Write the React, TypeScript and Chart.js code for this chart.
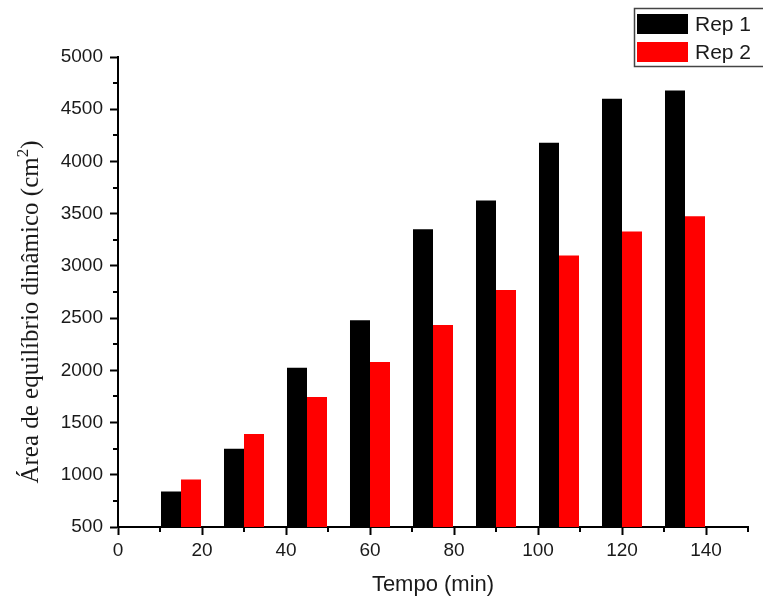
import React, { useEffect, useRef } from 'react';
import { Chart, registerables } from 'chart.js';

Chart.register(...registerables);

// ---- data ----
const tempos = [15, 30, 45, 60, 75, 90, 105, 120, 135];
const rep1 = [840, 1250, 2025, 2480, 3350, 3625, 4180, 4600, 4680];
const rep2 = [955, 1390, 1745, 2080, 2435, 2770, 3100, 3330, 3475];
const seriesLabels = ['Rep 1', 'Rep 2'];
const seriesColors = ['#000000', '#ff0000'];
const xMinorTicks = [10, 30, 50, 70, 90, 110, 130, 150];
const yMinorTicks = [750, 1250, 1750, 2250, 2750, 3250, 3750, 4250, 4750];
const xTitle = 'Tempo (min)';
const yTitleParts = ['Área de equilíbrio dinâmico (cm', '2', ')'];

const SANS = '"Liberation Sans", Arial, sans-serif';
const SERIF = '"Liberation Serif", "Times New Roman", serif';
const TEXT = '#1a1a1a';

const overlayPlugin = {
  id: 'overlay',
  afterDraw(chart: any) {
    const { ctx, scales } = chart;
    const x = scales.x;
    const y = scales.y;
    ctx.save();
    // minor ticks
    ctx.strokeStyle = '#000';
    ctx.lineWidth = 2;
    ctx.beginPath();
    xMinorTicks.forEach((v) => {
      const px = Math.round(x.getPixelForValue(v));
      ctx.moveTo(px, x.top);
      ctx.lineTo(px, x.top + 5);
    });
    yMinorTicks.forEach((v) => {
      const py = Math.round(y.getPixelForValue(v));
      ctx.moveTo(y.right - 5, py);
      ctx.lineTo(y.right, py);
    });
    ctx.stroke();

    // y title (serif, rotated, with superscript)
    ctx.save();
    ctx.translate(38, 312);
    ctx.rotate(-Math.PI / 2);
    ctx.fillStyle = TEXT;
    ctx.textAlign = 'left';
    ctx.textBaseline = 'alphabetic';
    const mainFont = `25px ${SERIF}`;
    const supFont = `17px ${SERIF}`;
    ctx.font = mainFont;
    const w0 = ctx.measureText(yTitleParts[0]).width;
    const w2 = ctx.measureText(yTitleParts[2]).width;
    ctx.font = supFont;
    const w1 = ctx.measureText(yTitleParts[1]).width;
    let cx = -(w0 + w1 + w2) / 2;
    ctx.font = mainFont;
    ctx.fillText(yTitleParts[0], cx, 0);
    cx += w0;
    ctx.font = supFont;
    ctx.fillText(yTitleParts[1], cx, -10);
    cx += w1;
    ctx.font = mainFont;
    ctx.fillText(yTitleParts[2], cx, 0);
    ctx.restore();

    // legend box
    ctx.strokeStyle = '#444';
    ctx.lineWidth = 1.5;
    ctx.strokeRect(634.5, 8.5, 140, 58);
    ctx.font = `21px ${SANS}`;
    ctx.textAlign = 'left';
    ctx.textBaseline = 'middle';
    chart.data.datasets.forEach((ds: any, i: number) => {
      const cy = 24 + i * 28;
      ctx.fillStyle = ds.backgroundColor;
      ctx.fillRect(637, cy - 10, 51, 20);
      ctx.fillStyle = TEXT;
      ctx.fillText(ds.label, 695, cy + 1);
    });
    ctx.restore();
  },
};

export default function App() {
  const ref = useRef<HTMLCanvasElement>(null);
  useEffect(() => {
    if (!ref.current) return;
    const chart = new Chart(ref.current, {
      type: 'bar',
      data: {
        datasets: [rep1, rep2].map((vals, i) => ({
          label: seriesLabels[i],
          data: tempos.map((t, j) => ({ x: t, y: vals[j] })),
          backgroundColor: seriesColors[i],
          borderWidth: 0,
          categoryPercentage: 0.635,
          barPercentage: 1,
        })),
      },
      options: {
        animation: false,
        responsive: false,
        devicePixelRatio: 1,
        layout: { padding: { top: 57, right: 15, left: 0, bottom: 0 } },
        plugins: { legend: { display: false }, tooltip: { enabled: false } },
        scales: {
          x: {
            type: 'linear',
            min: 0,
            max: 150,
            offset: false,
            ticks: {
              stepSize: 20,
              includeBounds: false,
              color: TEXT,
              font: { family: SANS, size: 19 },
              padding: 4,
              maxRotation: 0,
              callback: (v: any) => String(v),
            },
            grid: {
              display: true,
              drawOnChartArea: false,
              drawTicks: true,
              tickLength: 8,
              tickWidth: 2,
              tickColor: '#000',
              offset: false,
            },
            border: { display: true, color: '#000', width: 2 },
            title: {
              display: true,
              text: xTitle,
              color: TEXT,
              font: { family: SANS, size: 22 },
              padding: { top: 0, bottom: 5 },
            },
            afterFit: (s: any) => {
              s.height = 76;
            },
          },
          y: {
            type: 'linear',
            min: 500,
            max: 5000,
            ticks: {
              stepSize: 500,
              color: TEXT,
              font: { family: SANS, size: 19 },
              padding: 7,
              callback: (v: any) => String(v),
            },
            grid: {
              display: true,
              drawOnChartArea: false,
              drawTicks: true,
              tickLength: 8,
              tickWidth: 2,
              tickColor: '#000',
            },
            border: { display: true, color: '#000', width: 2 },
            afterFit: (s: any) => {
              s.width = 118;
            },
          },
        },
      },
      plugins: [overlayPlugin],
    } as any);
    return () => chart.destroy();
  }, []);

  return (
    <div style={{ position: 'absolute', left: 0, top: 0, width: 763, height: 603, background: '#fff' }}>
      <canvas ref={ref} width={763} height={603} style={{ width: 763, height: 603 }} />
    </div>
  );
}
